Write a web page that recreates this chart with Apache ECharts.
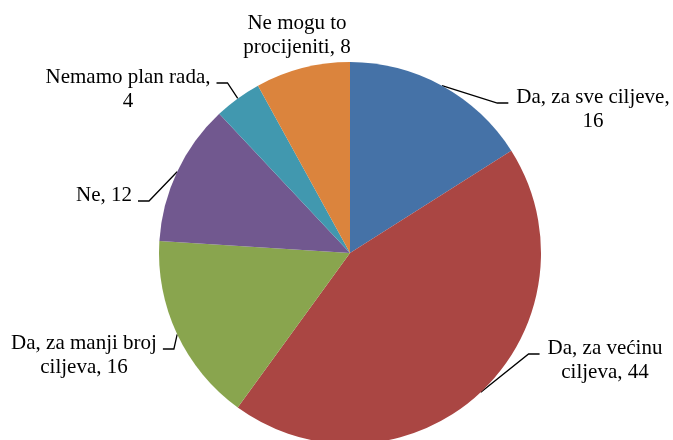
<!DOCTYPE html>
<html>
<head>
<meta charset="utf-8">
<script src="https://cdn.jsdelivr.net/npm/echarts@6/dist/echarts.min.js"></script>
<style>
  html, body { margin: 0; padding: 0; background: #fff; }
  #chart { width: 673px; height: 440px; }
</style>
</head>
<body>
<div id="chart"></div>
<script>
// Answer categories and counts, clockwise from 12 o'clock
const categories = [
  'Da, za sve ciljeve,\n16',
  'Da, za većinu\nciljeva, 44',
  'Da, za manji broj\nciljeva, 16',
  'Ne, 12',
  'Nemamo plan rada,\n4',
  'Ne mogu to\nprocijeniti, 8'
];
const values = [16, 44, 16, 12, 4, 8];
const colors = ['#4572A7', '#AA4643', '#89A54E', '#71588F', '#4198AF', '#DB843D'];

// Label placement: text centre and the side the leader attaches to
// (+1 = leader meets the left edge of the text, -1 = the right edge, 0 = no leader)
const labelPos = [
  { x: 593, y: 109, side: 1 },
  { x: 605, y: 360, side: 1 },
  { x: 84,  y: 355, side: -1 },
  { x: 104, y: 195, side: -1 },
  { x: 128, y: 89,  side: -1 },
  { x: 297, y: 35,  side: 0 }
];

const chart = echarts.init(document.getElementById('chart'), null, { renderer: 'canvas' });

const data = values.map((v, i) => ({
  value: v,
  name: categories[i],
  itemStyle: { color: colors[i] },
  labelLine: { show: labelPos[i].side !== 0 }
}));

chart.setOption({
  backgroundColor: '#ffffff',
  animation: false,
  series: [{
    type: 'pie',
    center: [350, 253],
    radius: 191,
    startAngle: 90,
    clockwise: true,
    avoidLabelOverlap: false,
    data: data,
    itemStyle: { borderWidth: 0 },
    label: {
      show: true,
      position: 'outside',
      formatter: p => p.name,
      fontFamily: '"Liberation Serif", "Times New Roman", serif',
      fontSize: 21,
      lineHeight: 24,
      color: '#000',
      align: 'center'
    },
    labelLine: {
      show: true,
      length: 10,
      length2: 10,
      lineStyle: { color: '#000', width: 1.3 }
    },
    labelLayout: function (params) {
      const lp = labelPos[params.dataIndex];
      const w = params.labelRect.width;
      const h = params.labelRect.height;
      const out = { x: lp.x, y: lp.y, align: 'center', verticalAlign: 'middle' };
      if (lp.side !== 0 && params.labelLinePoints) {
        // leader: from the slice edge at its mid-angle, to an elbow, then a short
        // horizontal run ending just beside the first text line
        const start = params.labelLinePoints[0];
        const ly = lp.y - h / 2 + 18;
        const end = lp.side > 0 ? lp.x - w / 2 - 8 : lp.x + w / 2 + 6;
        const elbow = end - lp.side * 11;
        out.labelLinePoints = [start, [elbow, ly], [end, ly]];
      }
      return out;
    }
  }]
});
</script>
</body>
</html>
